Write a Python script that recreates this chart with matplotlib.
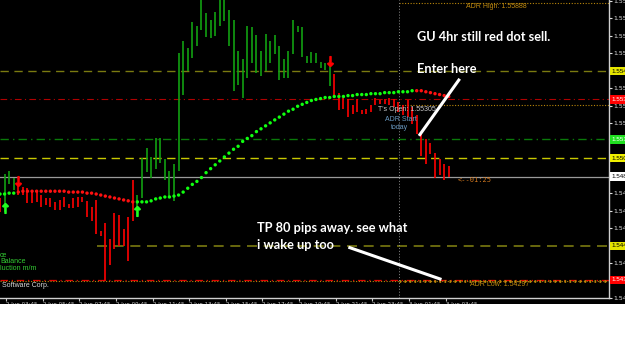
import numpy as np
import matplotlib.pyplot as plt
from matplotlib.patches import Rectangle
from matplotlib.transforms import blended_transform_factory

# 15 min GBPUSD bars (high / low)
highs = [1.54772, 1.54912, 1.54929, 1.54884, 1.54845, 1.54834, 1.54828, 1.54817, 1.54806, 1.54789,
         1.54772, 1.54772, 1.54750, 1.54761, 1.54778, 1.54739, 1.54772, 1.54778, 1.54778, 1.54756,
         1.54722, 1.54761, 1.54583, 1.54627, 1.54538, 1.54689, 1.54677, 1.54594, 1.54661, 1.54873,
         1.54789, 1.55001, 1.55057, 1.55007, 1.55118, 1.55113, 1.54995, 1.54929, 1.54968, 1.55604,
         1.55670, 1.55631, 1.55777, 1.55754, 1.55922, 1.55832, 1.55793, 1.55838, 1.55922, 1.55922,
         1.55849, 1.55788, 1.55615, 1.55570, 1.55754, 1.55749, 1.55704, 1.55615, 1.55710, 1.55670,
         1.55704, 1.55643, 1.55570, 1.55615, 1.55788, 1.55754, 1.55749, 1.55587, 1.55609, 1.55604,
         1.55553, 1.55542, 1.55559, 1.55481, 1.55375, 1.55347, 1.55336, 1.55302, 1.55336, 1.55274,
         1.55280, 1.55302, 1.55347, 1.55330, 1.55336, 1.55347, 1.55336, 1.55319, 1.55302, 1.55330,
         1.55291, 1.55247, 1.55141, 1.55107, 1.55085, 1.55029, 1.54995, 1.54968, 1.54957]
lows = [1.54694, 1.54694, 1.54850, 1.54817, 1.54789, 1.54789, 1.54744, 1.54744, 1.54750, 1.54722,
        1.54733, 1.54722, 1.54705, 1.54705, 1.54722, 1.54717, 1.54717, 1.54722, 1.54750, 1.54661,
        1.54638, 1.54566, 1.54555, 1.54298, 1.54387, 1.54482, 1.54499, 1.54499, 1.54410, 1.54638,
        1.54661, 1.54772, 1.54923, 1.54884, 1.54940, 1.54973, 1.54873, 1.54778, 1.54756, 1.54929,
        1.55364, 1.55498, 1.55576, 1.55643, 1.55732, 1.55693, 1.55687, 1.55698, 1.55754, 1.55782,
        1.55643, 1.55386, 1.55419, 1.55347, 1.55458, 1.55542, 1.55486, 1.55470, 1.55498, 1.55542,
        1.55598, 1.55447, 1.55458, 1.55458, 1.55598, 1.55721, 1.55581, 1.55542, 1.55542, 1.55542,
        1.55514, 1.55503, 1.55414, 1.55347, 1.55274, 1.55280, 1.55235, 1.55252, 1.55263, 1.55252,
        1.55252, 1.55263, 1.55302, 1.55308, 1.55308, 1.55302, 1.55291, 1.55263, 1.55247, 1.55235,
        1.55196, 1.55141, 1.55012, 1.54968, 1.55023, 1.54884, 1.54901, 1.54873, 1.54895]
bar_colors = "r" + "g" * 3 + "r" * 26 + "g" * 43 + "r" * 26

# dotted trend indicator
ma_values = [1.54795, 1.54795, 1.54800, 1.54800, 1.54806, 1.54811, 1.54811, 1.54811, 1.54811, 1.54811,
             1.54811, 1.54811, 1.54811, 1.54811, 1.54811, 1.54806, 1.54806, 1.54806, 1.54806, 1.54800,
             1.54800, 1.54795, 1.54789, 1.54783, 1.54778, 1.54772, 1.54767, 1.54761, 1.54756, 1.54750,
             1.54750, 1.54750, 1.54750, 1.54756, 1.54767, 1.54772, 1.54778, 1.54778, 1.54783, 1.54789,
             1.54806, 1.54828, 1.54850, 1.54867, 1.54889, 1.54917, 1.54940, 1.54962, 1.54984, 1.55007,
             1.55029, 1.55051, 1.55068, 1.55096, 1.55113, 1.55129, 1.55152, 1.55168, 1.55185, 1.55202,
             1.55219, 1.55235, 1.55252, 1.55269, 1.55280, 1.55297, 1.55308, 1.55319, 1.55330, 1.55336,
             1.55341, 1.55347, 1.55347, 1.55353, 1.55353, 1.55353, 1.55358, 1.55358, 1.55364, 1.55364,
             1.55364, 1.55369, 1.55369, 1.55369, 1.55375, 1.55375, 1.55375, 1.55380, 1.55380, 1.55380,
             1.55386, 1.55386, 1.55386, 1.55380, 1.55375, 1.55369, 1.55364, 1.55358, 1.55353]
ma_colors = "g" * 4 + "r" * 26 + "g" * 61 + "r" * 8

sell_arrows = [(4, 1.54867), (72, 1.55556)]
buy_arrows = [(1, 1.54717), (30, 1.54700)]

time_labels = ["2 Jun 03:45", "2 Jun 05:45", "2 Jun 07:45", "2 Jun 09:45", "2 Jun 11:45",
               "2 Jun 13:45", "2 Jun 15:45", "2 Jun 17:45", "2 Jun 19:45", "2 Jun 21:45",
               "2 Jun 23:45", "3 Jun 01:45", "3 Jun 03:45"]

adr_high = 1.55888
adr_low = 1.54297
t_open = 1.55305
current = 1.54895

GREEN_BAR = "#12a012"
RED = "#ff0000"

fig = plt.figure(figsize=(6.25, 3.44), dpi=100, facecolor="white")
fig.patches.append(Rectangle((0, 40 / 344), 1, 1, transform=fig.transFigure,
                             facecolor="black", zorder=-10))
ax = fig.add_axes([0, 46 / 344, 609 / 625, 298 / 344])
ax.set_facecolor("black")
ax.set_xlim(0, 133)
ax.set_ylim(1.54242, 1.55905)

x = np.arange(len(highs))

# horizontal levels
ax.axhline(1.55497, color="#7a7a10", lw=1, ls=(0, (6, 4)))
ax.axhline(1.55336, color="#b00000", lw=0.8, ls=(0, (6, 3, 1, 3)))
ax.axhline(1.55107, color="#0a7a0a", lw=1, ls=(0, (6, 3, 1, 3)))
ax.axhline(1.55001, color="#c8c800", lw=1, ls=(0, (6, 4)))
ax.axhline(current, color="#9a9a9a", lw=0.9)
ax.hlines(1.54499, 21.2, 133, color="#7a7a10", lw=1.2, ls=(0, (6, 4)))
ax.axhline(1.54305, color="#e00000", lw=0.9, ls=(0, (6, 3, 1, 3)))
ax.axhline(adr_low, color="#b8860b", lw=0.8, ls=(0, (1, 1.5)))
ax.hlines(adr_low, 87.1, 133, color="#b8860b", lw=2.0, ls=(0, (0.6, 1.2)))
ax.hlines([adr_high, t_open], 87.1, 133, color="#b8860b", lw=0.8, ls=(0, (1, 1.5)))
ax.axvline(87.1, color="#909090", lw=0.7, ls=(0, (1, 2)))

# bars and indicator
cmap = {"r": RED, "g": GREEN_BAR}
ax.vlines(x, lows, highs, colors=[cmap[c] for c in bar_colors], lw=1.2, zorder=3)
dot_map = {"r": "#ff1010", "g": "#10ff10"}
ax.scatter(x, ma_values, c=[dot_map[c] for c in ma_colors], s=6, marker="o",
           linewidths=0, zorder=4)
for i, p in sell_arrows:
    ax.plot(i, p, marker=r"$\downarrow$", color=RED, ms=7, zorder=5)
for i, p in buy_arrows:
    ax.plot(i, p, marker=r"$\uparrow$", color="#20ff20", ms=7, zorder=5)

# chart labels
small = dict(family="Liberation Sans", fontsize=5)
ax.text(108.3, 1.55866, "ADR High: 1.55888", color="#c08a10", ha="center", va="center", **small)
ax.text(109.2, 1.54276, "ADR Low: 1.54297", color="#c08a10", ha="center", va="center", **small)
ax.text(82.5, 1.55280, "T's Open: 1.55305", color="#c8c8c8", va="center", **small)
ax.text(84.1, 1.55219, "ADR Start", color="#6a9bc3", va="center", **small)
ax.text(85.4, 1.55174, "today", color="#6a9bc3", va="center", **small)
ax.text(100, 1.54873, "<--01:25", color="#d2781e", va="center", family="DejaVu Sans Mono",
        fontsize=5)
ax.text(0.4, 1.54270, "Software Corp.", color="#d8d8d8", va="center", **small)
for p, s in [(1.54443, "ce"), (1.54410, "Balance"), (1.54370, "luction m/m")]:
    ax.text(0, p, s, color="#32cd32", va="center", **small)

big = dict(family="Lato", fontsize=9.2, fontweight="bold", color="white", va="center")
ax.text(91.0, 1.55693, "GU 4hr still red dot sell.", **big)
ax.text(91.0, 1.55509, "Enter here", **big)
ax.text(56.1, 1.54599, "TP 80 pips away. see what", **big)
ax.text(56.1, 1.54504, "i wake up too", **big)
ax.plot([100.2, 91.7], [1.55447, 1.55135], color="white", lw=2.2, zorder=6)
ax.plot([76.4, 96.1], [1.54488, 1.54309], color="white", lw=2.2, zorder=6)

# axes
for s in ["left", "top"]:
    ax.spines[s].set_visible(False)
for s in ["right", "bottom"]:
    ax.spines[s].set_color("#d0d0d0")
    ax.spines[s].set_linewidth(1)
yt = np.arange(1.5420, 1.5591, 0.001)
ax.yaxis.tick_right()
ax.set_yticks(yt)
ax.set_yticklabels([f"{v:.5f}" for v in yt])
ax.tick_params(axis="y", colors="#e0e0e0", labelsize=4.5, length=2, pad=1)
xt = 1.31 + 8 * np.arange(len(time_labels))
ax.set_xticks(xt)
ax.set_xticklabels(time_labels, ha="left")
ax.tick_params(axis="x", colors="#c8c8c8", labelsize=4, length=2, pad=1)

# price boxes on the right scale
tr = blended_transform_factory(ax.transAxes, ax.transData)
boxes = [(1.55497, "#e6e600", "black"), (1.55336, "#ff0000", "white"),
         (1.55107, "#20e020", "white"), (1.55001, "#f0f000", "black"),
         (current, "white", "black"), (1.54499, "#e6e600", "black"),
         (1.54305, "#ff0000", "white")]
for p, fc, tc in boxes:
    ax.text(1.004, p, f"{p:.5f}", transform=tr, color=tc, fontsize=4.5, va="center",
            family="Liberation Sans", clip_on=False,
            bbox=dict(boxstyle="square,pad=0.25", fc=fc, ec="none"))

fig.add_artist(Rectangle((0, 0), 1, 40 / 344, transform=fig.transFigure,
                         facecolor="white", edgecolor="none", zorder=10))

fig.savefig("out.png", dpi=100, facecolor=fig.get_facecolor())
